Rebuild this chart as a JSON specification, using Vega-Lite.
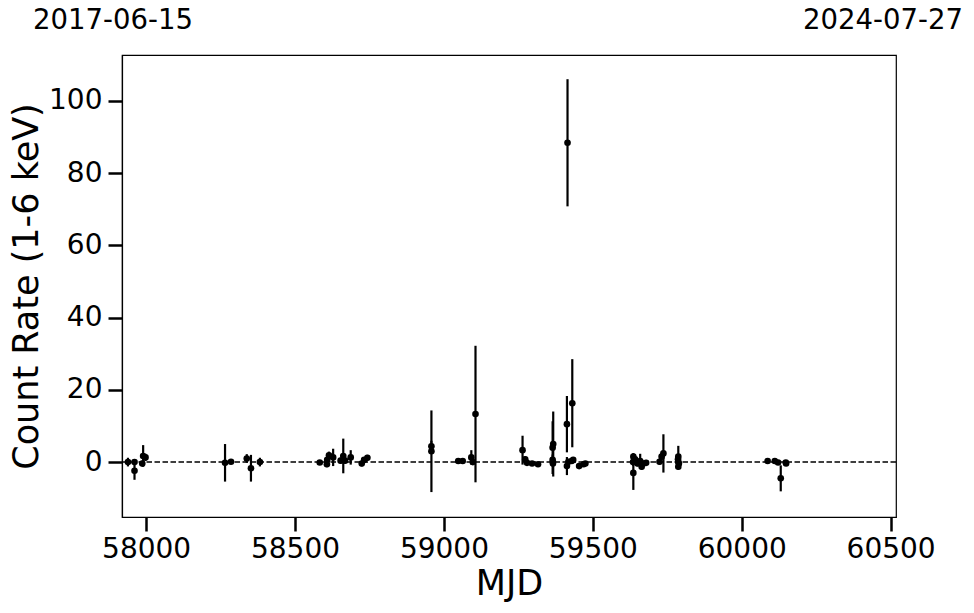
{
  "$schema": "https://vega.github.io/schema/vega-lite/v6.json",
  "width": 774,
  "height": 462,
  "autosize": {"type": "none"},
  "padding": {"left": 122, "top": 55, "right": 78, "bottom": 96},
  "background": "white",
  "config": {
    "font": "DejaVu Sans",
    "view": {"stroke": "black", "strokeWidth": 1.2},
    "axis": {
      "grid": false,
      "domainColor": "black",
      "domainWidth": 1.2,
      "tickColor": "black",
      "tickWidth": 2.5,
      "tickSize": 14,
      "labelColor": "black",
      "titleColor": "black",
      "labelFont": "DejaVu Sans",
      "titleFont": "DejaVu Sans",
      "labelFontSize": 28,
      "titleFontSize": 35,
      "titleFontWeight": "normal"
    }
  },
  "datasets": {
    "obs": [
      {"mjd": 57939, "rate": 0.0, "err": 1.2},
      {"mjd": 57961, "rate": 0.0, "err": 0.8},
      {"mjd": 57961, "rate": -2.4, "err": 2.5},
      {"mjd": 57987, "rate": -0.4, "err": 0.8},
      {"mjd": 57990, "rate": 1.7, "err": 3.0},
      {"mjd": 57998, "rate": 1.3, "err": 1.0},
      {"mjd": 58265, "rate": -0.2, "err": 5.2},
      {"mjd": 58285, "rate": 0.1, "err": 0.6},
      {"mjd": 58338, "rate": 1.0, "err": 1.2},
      {"mjd": 58352, "rate": -1.7, "err": 3.7},
      {"mjd": 58382, "rate": 0.0, "err": 1.2},
      {"mjd": 58583, "rate": -0.1, "err": 0.6},
      {"mjd": 58607, "rate": -0.6, "err": 0.8},
      {"mjd": 58608, "rate": 0.6, "err": 0.8},
      {"mjd": 58614, "rate": 1.9, "err": 1.0},
      {"mjd": 58628, "rate": 1.3, "err": 2.4},
      {"mjd": 58653, "rate": 0.4, "err": 0.8},
      {"mjd": 58662, "rate": 1.7, "err": 4.8},
      {"mjd": 58668, "rate": 0.4, "err": 0.8},
      {"mjd": 58687, "rate": 1.3, "err": 2.0},
      {"mjd": 58724, "rate": -0.4, "err": 0.8},
      {"mjd": 58732, "rate": 0.6, "err": 0.8},
      {"mjd": 58743, "rate": 1.2, "err": 0.8},
      {"mjd": 58958, "rate": 4.4, "err": 1.5},
      {"mjd": 58958, "rate": 3.0, "err": 11.3},
      {"mjd": 59048, "rate": 0.3, "err": 0.6},
      {"mjd": 59063, "rate": 0.3, "err": 0.6},
      {"mjd": 59092, "rate": 1.3, "err": 2.0},
      {"mjd": 59097, "rate": 0.0, "err": 0.8},
      {"mjd": 59106, "rate": 13.3, "err": 18.9},
      {"mjd": 59264, "rate": 3.3, "err": 4.0},
      {"mjd": 59273, "rate": 0.8, "err": 0.8},
      {"mjd": 59279, "rate": -0.2, "err": 0.8},
      {"mjd": 59296, "rate": -0.4, "err": 0.6},
      {"mjd": 59316, "rate": -0.6, "err": 0.6},
      {"mjd": 59367, "rate": 5.0, "err": 9.0},
      {"mjd": 59365, "rate": 4.0, "err": 7.3},
      {"mjd": 59365, "rate": 0.6, "err": 1.5},
      {"mjd": 59366, "rate": -0.4, "err": 1.0},
      {"mjd": 59366, "rate": 0.0, "err": 1.0},
      {"mjd": 59413, "rate": 10.5, "err": 7.8},
      {"mjd": 59415, "rate": 88.4, "err": 17.6},
      {"mjd": 59431, "rate": 16.3, "err": 12.2},
      {"mjd": 59413, "rate": -1.1, "err": 2.5},
      {"mjd": 59418, "rate": 0.1, "err": 0.8},
      {"mjd": 59429, "rate": 0.3, "err": 0.8},
      {"mjd": 59434, "rate": 0.6, "err": 0.8},
      {"mjd": 59454, "rate": -1.1, "err": 0.6},
      {"mjd": 59469, "rate": -0.6, "err": 0.6},
      {"mjd": 59475, "rate": -0.4, "err": 0.6},
      {"mjd": 59636, "rate": 1.5, "err": 1.0},
      {"mjd": 59636, "rate": -3.0, "err": 4.7},
      {"mjd": 59635, "rate": 0.0, "err": 1.0},
      {"mjd": 59642, "rate": 0.8, "err": 0.8},
      {"mjd": 59650, "rate": -0.4, "err": 0.8},
      {"mjd": 59659, "rate": 0.3, "err": 2.0},
      {"mjd": 59664, "rate": -1.3, "err": 0.8},
      {"mjd": 59670, "rate": -0.4, "err": 0.8},
      {"mjd": 59679, "rate": -0.2, "err": 0.8},
      {"mjd": 59724, "rate": 0.1, "err": 0.8},
      {"mjd": 59731, "rate": 1.5, "err": 0.8},
      {"mjd": 59737, "rate": 2.4, "err": 5.3},
      {"mjd": 59787, "rate": 1.5, "err": 3.0},
      {"mjd": 59787, "rate": 0.0, "err": 0.8},
      {"mjd": 59787, "rate": -1.3, "err": 0.8},
      {"mjd": 59786, "rate": 0.8, "err": 0.8},
      {"mjd": 59789, "rate": -0.4, "err": 0.8},
      {"mjd": 60087, "rate": 0.3, "err": 0.5},
      {"mjd": 60111, "rate": 0.3, "err": 0.5},
      {"mjd": 60122, "rate": -0.1, "err": 0.5},
      {"mjd": 60131, "rate": -4.5, "err": 3.6},
      {"mjd": 60148, "rate": -0.1, "err": 0.5},
      {"mjd": 60149, "rate": -0.4, "err": 0.5}
    ]
  },
  "encoding": {
    "x": {
      "field": "mjd",
      "type": "quantitative",
      "title": "MJD",
      "scale": {"domain": [57919, 60518], "nice": false, "zero": false},
      "axis": {"values": [58000, 58500, 59000, 59500, 60000, 60500], "format": "d", "labelPadding": 4, "titlePadding": 3}
    },
    "y": {
      "field": "rate",
      "type": "quantitative",
      "title": "Count Rate (1-6 keV)",
      "scale": {"domain": [-15.2, 112.7], "nice": false, "zero": false},
      "axis": {"values": [0, 20, 40, 60, 80, 100], "labelPadding": 6, "titlePadding": 4}
    }
  },
  "layer": [
    {
      "data": {"name": "obs"},
      "mark": {"type": "errorbar", "ticks": false, "thickness": 2.2, "color": "black"},
      "encoding": {
        "yError": {"field": "err"}
      }
    },
    {
      "data": {"name": "obs"},
      "mark": {"type": "point", "filled": true, "size": 44, "color": "black", "opacity": 1},
      "encoding": {}
    },
    {
      "data": {"values": [{"level": 0}]},
      "mark": {"type": "rule", "color": "black", "strokeWidth": 1.5, "strokeDash": [5.5, 2.5]},
      "encoding": {
        "x": null,
        "y": {"field": "level", "type": "quantitative"}
      }
    },
    {
      "data": {"values": [{"mjd": 57919, "pos": 122, "label": "2017-06-15"}]},
      "mark": {"type": "text", "fontSize": 27.5, "color": "black", "align": "center", "baseline": "middle", "font": "DejaVu Sans", "dx": -9, "clip": false},
      "encoding": {
        "y": {"field": "pos", "type": "quantitative"},
        "text": {"field": "label"}
      }
    },
    {
      "data": {"values": [{"mjd": 60518, "pos": 122, "label": "2024-07-27"}]},
      "mark": {"type": "text", "fontSize": 27.5, "color": "black", "align": "center", "baseline": "middle", "font": "DejaVu Sans", "dx": -13, "clip": false},
      "encoding": {
        "y": {"field": "pos", "type": "quantitative"},
        "text": {"field": "label"}
      }
    }
  ]
}
